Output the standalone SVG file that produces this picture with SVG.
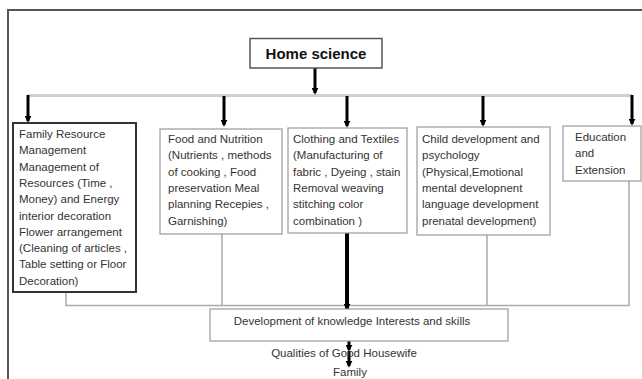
<svg xmlns="http://www.w3.org/2000/svg" width="642" height="379" viewBox="0 0 642 379">
<style>
.t{font-family:"Liberation Sans",Arial,sans-serif;font-size:11.5px;fill:#333}
.box{fill:#fff;stroke:#9a9a9a;stroke-width:1.2}
.arr{stroke:#000;stroke-width:3;fill:none}
.thin{stroke:#aaa;stroke-width:1.5;fill:none}
</style>
<defs>
<marker id="ah" viewBox="0 0 8 8" refX="6" refY="4" markerWidth="7" markerHeight="7" markerUnits="userSpaceOnUse" orient="auto">
<path d="M0,0 L8,4 L0,8 z" fill="#000"/>
</marker>
</defs>
<rect width="642" height="379" fill="#fff"/>
<path d="M8,379 V10 H642" fill="none" stroke="#555" stroke-width="2"/>

<g id="connectors">
<line x1="28" y1="95.5" x2="632" y2="95.5" stroke="#cfcfcf" stroke-width="3"/>
<line class="arr" x1="315" y1="68" x2="315" y2="93" marker-end="url(#ah)"/>
<line class="arr" x1="28" y1="95" x2="28" y2="121" marker-end="url(#ah)"/>
<line class="arr" x1="224" y1="96" x2="224" y2="125" marker-end="url(#ah)"/>
<line class="arr" x1="347" y1="96" x2="347" y2="126" marker-end="url(#ah)"/>
<line class="arr" x1="483" y1="96" x2="483" y2="125" marker-end="url(#ah)"/>
<line class="arr" x1="632" y1="95" x2="632" y2="124" marker-end="url(#ah)"/>
<path class="thin" d="M66,292 V305.5 H629 V181"/>
<line class="thin" x1="222" y1="234" x2="222" y2="305.5"/>
<line class="thin" x1="487" y1="235" x2="487" y2="305.5"/>
<line stroke="#000" stroke-width="4" x1="347" y1="233" x2="347" y2="309" marker-end="url(#ah)"/>
<line class="arr" x1="349" y1="341" x2="349" y2="350" marker-end="url(#ah)"/>
<line class="arr" x1="349" y1="351" x2="349" y2="366" marker-end="url(#ah)"/>
</g>

<g id="home">
<rect x="250" y="38.5" width="132" height="29.5" fill="#fff" stroke="#555" stroke-width="1.5"/>
<text x="316" y="59" text-anchor="middle" font-family="'Liberation Sans',Arial,sans-serif" font-size="15" font-weight="bold" fill="#111">Home science</text>
</g>

<g id="family">
<rect x="13" y="123" width="123" height="169" fill="#fff" stroke="#333" stroke-width="2"/>
<text class="t" x="19" y="138">Family Resource</text>
<text class="t" x="19" y="154.3">Management</text>
<text class="t" x="19" y="170.6">Management of</text>
<text class="t" x="19" y="186.9">Resources  (Time ,</text>
<text class="t" x="19" y="203.2">Money) and Energy</text>
<text class="t" x="19" y="219.5">interior  decoration</text>
<text class="t" x="19" y="235.8">Flower arrangement</text>
<text class="t" x="19" y="252.1">(Cleaning of articles ,</text>
<text class="t" x="19" y="268.4">Table setting or Floor</text>
<text class="t" x="19" y="284.7">Decoration)</text>
</g>

<g id="food">
<rect class="box" x="160" y="129" width="122" height="105"/>
<text class="t" x="168" y="143">Food and Nutrition</text>
<text class="t" x="168" y="159.3">(Nutrients , methods</text>
<text class="t" x="168" y="175.6">of cooking , Food</text>
<text class="t" x="168" y="191.9">preservation Meal</text>
<text class="t" x="168" y="208.2">planning Recepies ,</text>
<text class="t" x="168" y="224.5">Garnishing)</text>
</g>

<g id="clothing">
<rect class="box" x="288" y="128" width="119" height="105"/>
<text class="t" x="293" y="143">Clothing and Textiles</text>
<text class="t" x="293" y="159.3">(Manufacturing of</text>
<text class="t" x="293" y="175.6">fabric , Dyeing , stain</text>
<text class="t" x="293" y="191.9">Removal weaving</text>
<text class="t" x="293" y="208.2">stitching color</text>
<text class="t" x="293" y="224.5">combination )</text>
</g>

<g id="child">
<rect class="box" x="417" y="127" width="133" height="108"/>
<text class="t" x="422" y="143">Child development and</text>
<text class="t" x="422" y="159.3">psychology</text>
<text class="t" x="422" y="175.6">(Physical,Emotional</text>
<text class="t" x="422" y="191.9">mental developnent</text>
<text class="t" x="422" y="208.2">language development</text>
<text class="t" x="422" y="224.5">prenatal development)</text>
</g>

<g id="education">
<rect class="box" x="563" y="126" width="78" height="55"/>
<text class="t" x="575" y="141">Education</text>
<text class="t" x="575" y="157.3">and</text>
<text class="t" x="575" y="173.6">Extension</text>
</g>

<g id="development">
<rect class="box" x="210" y="309" width="298" height="32"/>
<text class="t" x="352" y="325" text-anchor="middle" font-size="11">Development of knowledge Interests and skills</text>
</g>

<g id="qualities">
<text class="t" x="344" y="357" text-anchor="middle" font-size="11">Qualities of Good Housewife</text>
</g>

<g id="familyNode">
<text class="t" x="350" y="376" text-anchor="middle" font-size="10">Family</text>
</g>
</svg>
